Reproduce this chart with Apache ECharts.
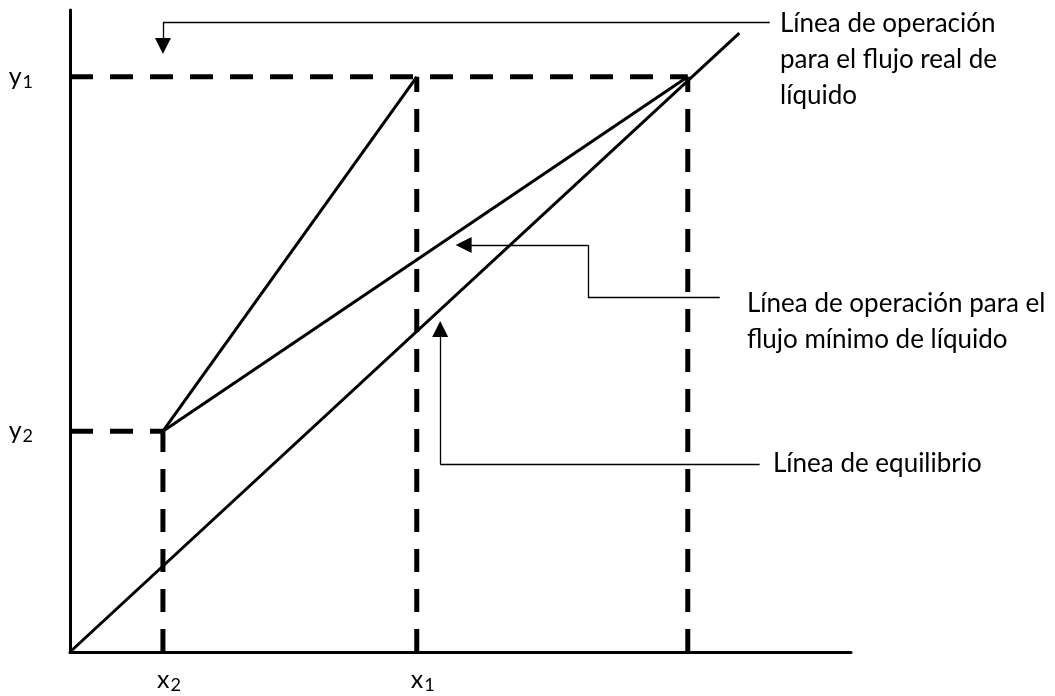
<!DOCTYPE html>
<html>
<head>
<meta charset="utf-8">
<script src="https://cdn.jsdelivr.net/npm/echarts@6/dist/echarts.min.js"></script>
<style>
html, body { margin: 0; padding: 0; background: #fff; }
#grafico { width: 1055px; height: 696px; }
</style>
</head>
<body>
<div id="grafico"></div>
<script>
// valores (ejes de 0 a 100 en ambas direcciones)
var xTicks = [11.9, 44.4];
var xTickLabels = [["x", "2"], ["x", "1"]];
var yTicks = [34.4, 89.6];
var yTickLabels = [["y", "2"], ["y", "1"]];

var equilibrio = [[0, 0], [85.7, 96.4]];
var operacionReal = [[11.9, 34.4], [44.4, 89.6]];
var operacionMinima = [[11.9, 34.4], [79.1, 89.6]];

// guias discontinuas
var guiaY1 = [[0, 89.6], [79.1, 89.6]];
var guiaY2 = [[0, 34.4], [11.9, 34.4]];
var guiaX2 = [[11.9, 0], [11.9, 34.4]];
var guiaX1 = [[44.4, 0], [44.4, 89.6]];
var guiaPinch = [[79.1, 0], [79.1, 89.6]];

// flechas de las notas
var flechaReal = [[89.6, 98.1], [11.9, 98.1], [11.9, 94.4]];
var flechaMinima = [[83.2, 55.3], [66.3, 55.3], [66.3, 63.4], [50.4, 63.4]];
var flechaEquilibrio = [[88.3, 29.3], [47.4, 29.3], [47.4, 50.3]];

var notaReal = "Línea de operación\npara el flujo real de\nlíquido";
var notaMinima = "Línea de operación para el\nflujo mínimo de líquido";
var notaEquilibrio = "Línea de equilibrio";

var fuente = "Lato";

function linea(datos, ancho) {
    return {
        type: "line",
        data: datos,
        symbol: "none",
        lineStyle: { color: "#000", width: ancho },
        z: 3
    };
}

function guia(datos) {
    return {
        type: "line",
        data: datos,
        symbol: "none",
        lineStyle: { color: "#000", width: 5, type: [23, 17], cap: "butt" },
        z: 2
    };
}

function tramos(puntos) {
    var out = [];
    for (var i = 0; i < puntos.length - 1; i++) {
        out.push({
            coords: [puntos[i], puntos[i + 1]],
            symbol: i === puntos.length - 2 ? ["none", "triangle"] : ["none", "none"]
        });
    }
    return out;
}

function etiqueta(lista, valores) {
    return function (v) {
        for (var i = 0; i < valores.length; i++) {
            if (Math.abs(valores[i] - v) < 0.01) {
                return "{m|" + lista[i][0] + "}{s|" + lista[i][1] + "}";
            }
        }
        return "";
    };
}

var rich = {
    m: { fontSize: 25, fontFamily: fuente, color: "#000" },
    s: { fontSize: 18, fontFamily: fuente, color: "#000", padding: [10, 0, 0, 1] }
};

const chart = echarts.init(document.getElementById("grafico"));
const option = {
    animation: false,
    grid: { left: 70, right: 204, top: 10, bottom: 44 },
    xAxis: {
        type: "value",
        min: 0,
        max: 100,
        axisLine: { lineStyle: { color: "#000", width: 3 } },
        axisTick: { show: false },
        splitLine: { show: false },
        axisLabel: {
            customValues: xTicks,
            formatter: etiqueta(xTickLabels, xTicks),
            margin: 14,
            padding: [0, 0, 0, 12],
            rich: rich
        }
    },
    yAxis: {
        type: "value",
        min: 0,
        max: 100,
        axisLine: { lineStyle: { color: "#000", width: 3 } },
        axisTick: { show: false },
        splitLine: { show: false },
        axisLabel: {
            customValues: yTicks,
            formatter: etiqueta(yTickLabels, yTicks),
            margin: 37,
            rich: rich
        }
    },
    series: [
        guia(guiaY1),
        guia(guiaY2),
        guia(guiaX2),
        guia(guiaX1),
        guia(guiaPinch),
        linea(equilibrio, 3),
        linea(operacionReal, 3),
        linea(operacionMinima, 3),
        {
            type: "lines",
            coordinateSystem: "cartesian2d",
            symbolSize: 16,
            lineStyle: { color: "#000", width: 1.3, opacity: 1 },
            data: tramos(flechaReal).concat(tramos(flechaMinima), tramos(flechaEquilibrio)),
            z: 4
        }
    ],
    graphic: [
        { type: "text", left: 780, top: 6, style: { text: notaReal, font: "26px " + fuente, lineHeight: 36, fill: "#000" } },
        { type: "text", left: 747, top: 286, style: { text: notaMinima, font: "26px " + fuente, lineHeight: 36, fill: "#000" } },
        { type: "text", left: 773, top: 446, style: { text: notaEquilibrio, font: "26px " + fuente, lineHeight: 36, fill: "#000" } }
    ]
};
chart.setOption(option);
</script>
</body>
</html>
